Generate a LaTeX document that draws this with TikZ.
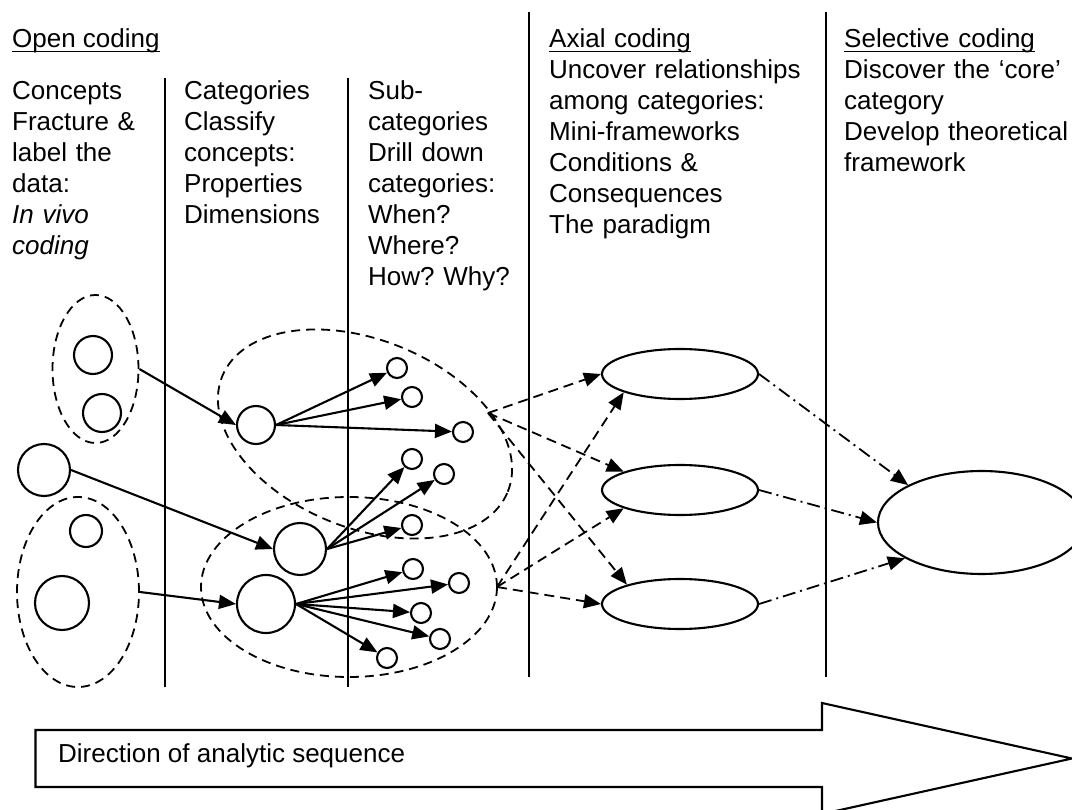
\documentclass[tikz,border=0pt]{standalone}
\usepackage{fontspec}
\setmainfont{Liberation Sans}
\usetikzlibrary{shapes.geometric, arrows.meta}
\newcommand{\headline}[1]{\setbox0\hbox{#1}\rlap{\rule[-4.5pt]{\wd0}{1.6pt}}\box0}

\begin{document}
\frenchspacing
\begin{tikzpicture}[x=1pt,y=-1pt,
        every node/.style={font=\fontsize{26}{31}\selectfont},
        coltext/.style={anchor=base west, align=left, inner sep=0pt},
        concept/.style={draw, circle, line width=2.1pt, inner sep=0pt},
        axis/.style={draw, ellipse, line width=2.1pt, inner sep=0pt},
        grp/.style={draw, ellipse, line width=1.8pt, dash pattern=on 9pt off 6pt, inner sep=0pt},
        link/.style={line width=2.1pt, -{Triangle[length=17pt,width=14pt]}},
        dlink/.style={link, line width=1.8pt, dash pattern=on 10pt off 6pt},
        ddlink/.style={link, line width=1.8pt, dash pattern=on 13pt off 5pt on 2pt off 5pt},
        sep/.style={line width=2.1pt}]
        \useasboundingbox (0,0) rectangle (1072,810);

        \node[coltext] (open) at (12,48) {\headline{Open coding}};
        \node[coltext, text width=150pt] (concepts) at (12,100)
        {Concepts\\Fracture \&\\label the\\data:\\\textit{In vivo}\\\textit{coding}};
        \node[coltext, text width=160pt] (categories) at (184,100)
        {Categories\\Classify\\concepts:\\Properties\\Dimensions};
        \node[coltext, text width=155pt] (subcats) at (368,100)
        {Sub-\\categories\\Drill down\\categories:\\When?\\Where?\\How? Why?};
        \node[coltext, text width=270pt] (axial) at (549,48)
        {\headline{Axial coding}\\Uncover relationships\\among categories:\\Mini-frameworks\\Conditions \&\\Consequences\\The paradigm};
        \node[coltext, text width=230pt] (selective) at (844,48)
        {\headline{Selective coding}\\Discover the `core'\\category\\Develop theoretical\\framework};

        \draw[sep] (165,78) -- (165,687);
        \draw[sep] (348,78) -- (348,687);
        \draw[sep] (529,12) -- (529,677);
        \draw[sep] (826,12) -- (826,677);

        \node[concept, minimum size=38pt] (conca) at (93,355) {};
        \node[concept, minimum size=38pt] (concb) at (102,413) {};
        \node[concept, minimum size=52pt] (concc) at (44,470) {};
        \node[concept, minimum size=32pt] (concd) at (86,531) {};
        \node[concept, minimum size=54pt] (conce) at (62,603) {};
        \node[grp, minimum width=86pt, minimum height=148pt] (grpa) at (95.5,369) {};
        \node[grp, minimum width=122pt, minimum height=190pt] (grpb) at (78,592) {};

        \node[concept, minimum size=38pt] (cata) at (256,425) {};
        \node[concept, minimum size=52pt] (catb) at (300,549) {};
        \node[concept, minimum size=58pt] (catc) at (266,604) {};
        \node[grp, minimum width=308pt, minimum height=188pt, rotate=-22] (catgrpa) at (365,434) {};
        \node[grp, minimum width=296pt, minimum height=180pt] (catgrpb) at (349,587) {};

        \node[concept, minimum size=20pt] (suba) at (397,368) {};
        \node[concept, minimum size=20pt] (subb) at (412,397) {};
        \node[concept, minimum size=20pt] (subc) at (463,432) {};
        \node[concept, minimum size=20pt] (subd) at (412,459) {};
        \node[concept, minimum size=20pt] (sube) at (444,474) {};
        \node[concept, minimum size=20pt] (subf) at (412,525) {};
        \node[concept, minimum size=20pt] (subg) at (413,569) {};
        \node[concept, minimum size=20pt] (subh) at (459,583) {};
        \node[concept, minimum size=20pt] (subi) at (421,613) {};
        \node[concept, minimum size=20pt] (subj) at (440,639) {};
        \node[concept, minimum size=20pt] (subk) at (387,658) {};

        \node[axis, minimum width=156pt, minimum height=50pt] (axiala) at (680,374) {};
        \node[axis, minimum width=156pt, minimum height=50pt] (axialb) at (680,490) {};
        \node[axis, minimum width=156pt, minimum height=50pt] (axialc) at (680,604) {};
        \node[axis, minimum width=207pt, minimum height=103pt] (core) at (981.5,522.5) {};

        \coordinate (splita) at (488,413);
        \coordinate (splitb) at (497,587);

        \draw[link] (grpa.east) -- (cata.west);
        \draw[link] (concc.east) -- (catb.west);
        \draw[link] (grpb.east) -- (catc.west);
        \draw[link] (cata.east) -- (suba);
        \draw[link] (cata.east) -- (subb);
        \draw[link] (cata.east) -- (subc);
        \draw[link] (catb.east) -- (subd);
        \draw[link] (catb.east) -- (sube);
        \draw[link] (catb.east) -- (subf);
        \draw[link] (catc.east) -- (subg);
        \draw[link] (catc.east) -- (subh);
        \draw[link] (catc.east) -- (subi);
        \draw[link] (catc.east) -- (subj);
        \draw[link] (catc.east) -- (subk);

        \draw[dlink] (splita) -- (axiala.west);
        \draw[dlink] (splita) -- (axialb.162);
        \draw[dlink] (splita) -- (axialc.160);
        \draw[dlink] (splitb) -- (axiala.198);
        \draw[dlink] (splitb) -- (axialb.198);
        \draw[dlink] (splitb) -- (axialc.west);

        \draw[ddlink] (axiala.east) -- (core.153);
        \draw[ddlink] (axialb.east) -- (core.west);
        \draw[ddlink] (axialc.east) -- (core.205);

        \draw[sep] (35.5,730) -- (822,730) -- (822,703) -- (1072,758.5) -- (822,814) -- (822,787) -- (35.5,787) -- cycle;
        \node[anchor=base west, inner sep=0pt] (direction) at (58,762) {Direction of analytic sequence};
    \end{tikzpicture}
\end{document}
